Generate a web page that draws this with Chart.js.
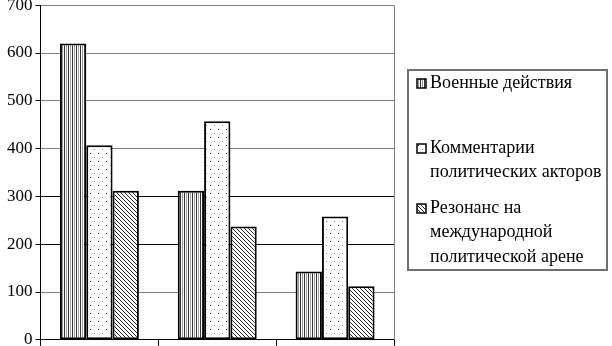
<!DOCTYPE html>
<html>
<head>
<meta charset="utf-8">
<script src="https://cdn.jsdelivr.net/npm/chart.js@4.4.1/dist/chart.umd.min.js"></script>
<style>
  html, body { margin: 0; padding: 0; background: #fff; }
  #wrap { position: relative; width: 612px; height: 346px; overflow: hidden; }
  #chart { position: absolute; left: 0; top: -8px; }
</style>
</head>
<body>
<div id="wrap"><canvas id="chart" width="612" height="361"></canvas></div>
<script>
// data
const categories = ['', '', ''];
const seriesNames = [
	'Военные действия',
	'Комментарии\nполитических акторов',
	'Резонанс на\nмеждународной\nполитической арене'
];
const militaryValues = [620, 312, 143];
const commentValues = [407, 457, 258];
const resonanceValues = [312, 237, 112];
const yTicks = [0, 100, 200, 300, 400, 500, 600, 700];

const serif = 'Liberation Serif';
const shiftY = 8; // canvas is moved up by this much

// fill patterns
function makePattern(w, h, draw) {
	let c = document.createElement('canvas');
	c.width = w; c.height = h;
	let g = c.getContext('2d');
	g.fillStyle = '#fff';
	g.fillRect(0, 0, w, h);
	draw(g);
	return document.getElementById('chart').getContext('2d').createPattern(c, 'repeat');
}

let stripes = makePattern(4, 4, g => {
	g.fillStyle = '#333';
	g.fillRect(0, 0, 1, 4);
	g.fillStyle = '#999';
	g.fillRect(2, 0, 1, 4);
});

let dots = makePattern(8, 8, g => {
	g.fillStyle = '#222';
	g.fillRect(2, 1, 1, 1);
	g.fillStyle = '#888';
	g.fillRect(6, 5, 1, 1);
});

let hatch = makePattern(4, 4, g => {
	g.strokeStyle = '#222';
	g.lineWidth = 1;
	g.beginPath();
	g.moveTo(-1, -1); g.lineTo(5, 5);
	g.moveTo(-1, 3); g.lineTo(1, 5);
	g.moveTo(3, -1); g.lineTo(5, 1);
	g.stroke();
});

// right border of the plot and the boxed legend
const boxLegend = {
	id: 'boxLegend',
	afterDraw(chart) {
		let ctx = chart.ctx;
		let a = chart.chartArea;
		ctx.save();
		ctx.strokeStyle = '#808080';
		ctx.lineWidth = 1;
		ctx.beginPath();
		ctx.moveTo(a.right + 0.5, a.top);
		ctx.lineTo(a.right + 0.5, a.bottom);
		ctx.stroke();

		ctx.translate(0, shiftY);
		ctx.strokeStyle = '#707070';
		ctx.lineWidth = 2;
		ctx.strokeRect(408, 70, 199, 200);

		let itemY = [83, 148, 208];
		ctx.font = '18px "' + serif + '"';
		ctx.textBaseline = 'middle';
		chart.data.datasets.forEach((ds, i) => {
			ctx.fillStyle = ds.backgroundColor;
			ctx.fillRect(417, itemY[i] - 4, 9, 9);
			ctx.strokeStyle = '#000';
			ctx.lineWidth = 1.5;
			ctx.strokeRect(417, itemY[i] - 4, 9, 9);
			ctx.fillStyle = '#000';
			ds.label.split('\n').forEach((line, k) => {
				ctx.fillText(line, 430, itemY[i] + k * 24.5);
			});
		});
		ctx.restore();
	}
};

let chart = new Chart(document.getElementById('chart'), {
	type: 'bar',
	data: {
		labels: categories,
		datasets: [
			{ label: seriesNames[0], data: militaryValues, backgroundColor: stripes },
			{ label: seriesNames[1], data: commentValues, backgroundColor: dots },
			{ label: seriesNames[2], data: resonanceValues, backgroundColor: hatch }
		].map(d => Object.assign(d, {
			borderColor: '#000',
			borderWidth: 2,
			borderSkipped: false,
			categoryPercentage: 0.67,
			barPercentage: 1
		}))
	},
	options: {
		responsive: false,
		animation: false,
		layout: { padding: { left: 4, right: 218, top: 0, bottom: 0 } },
		plugins: {
			legend: { display: false },
			tooltip: { enabled: false }
		},
		scales: {
			x: {
				offset: true,
				grid: {
					offset: true,
					drawOnChartArea: false,
					tickLength: 6,
					tickColor: '#000'
				},
				border: { color: '#000', width: 1 },
				ticks: { display: false }
			},
			y: {
				min: 0,
				max: 700,
				afterBuildTicks: s => { s.ticks = yTicks.map(v => ({ value: v })); },
				grid: {
					color: c => (c.tick && (c.tick.value === 200 || c.tick.value === 300)) ? '#000' : '#808080',
					tickLength: 5,
					tickColor: '#000'
				},
				border: { color: '#000', width: 1 },
				ticks: {
					padding: 3,
					color: '#000',
					font: { family: serif, size: 17 }
				}
			}
		}
	},
	plugins: [boxLegend]
});
</script>
</body>
</html>
